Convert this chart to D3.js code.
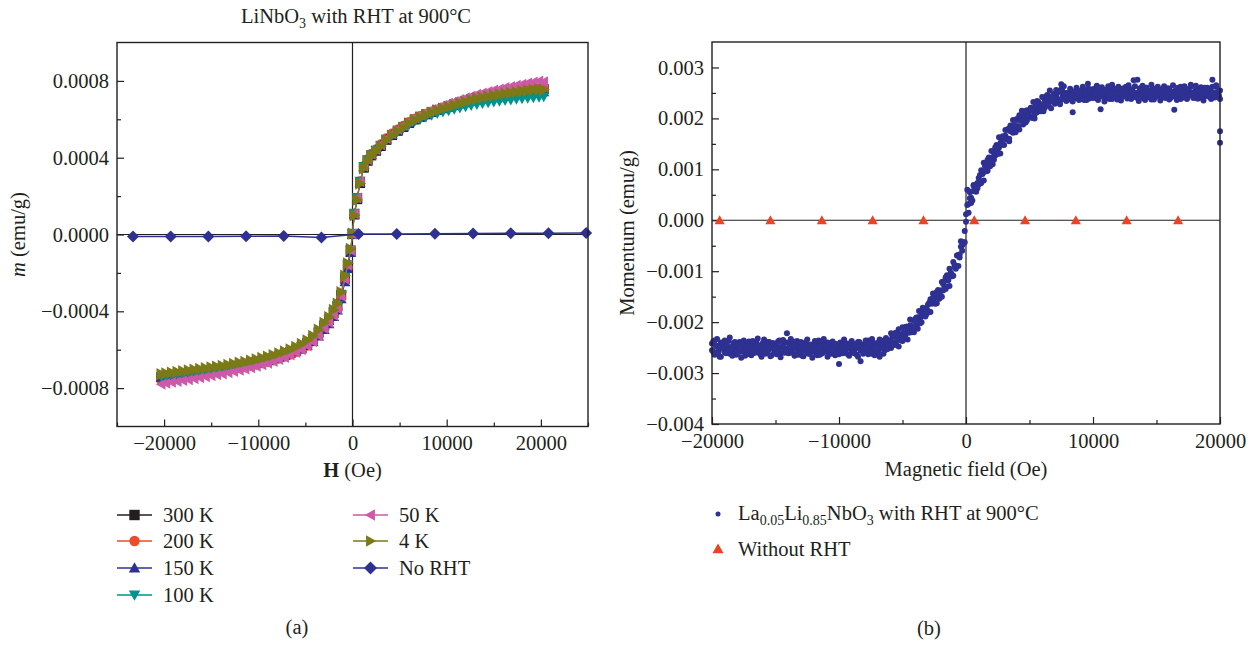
<!DOCTYPE html>
<html><head><meta charset="utf-8">
<script src="https://cdn.jsdelivr.net/npm/d3@7"></script>
<style>
body{margin:0;background:#fff}
svg{display:block}
text{font-family:"Liberation Serif","DejaVu Serif",serif;fill:#231f20}
</style>
</head><body>
<svg id="chart" width="1255" height="646"></svg>
<script>
// ---------- Panel (a) data : field in Oe, moment in 1e-6 emu/g ----------
const fieldA = [-20300,-19800,-19200,-18600,-18000,-17400,-16800,-16200,-15600,-15000,
 -14400,-13800,-13200,-12600,-12000,-11400,-10800,-10200,-9600,-9000,
 -8400,-7800,-7200,-6600,-6000,-5400,-4800,-4200,-3600,-3000,
 -2500,-2000,-1600,-1200,-800,-500,-200,0,200,500,
 800,1200,1600,2000,2500,3000,3600,4200,4800,5400,
 6000,6600,7200,7800,8400,9000,9600,10200,10800,11400,
 12000,12600,13200,13800,14400,15000,15600,16200,16800,17400,
 18000,18600,19200,19800,20300];
const m300K = [-742,-738,-734,-731,-727,-723,-719,-715,-711,-707,
 -703,-699,-694,-689,-683,-678,-672,-665,-658,-651,
 -643,-634,-624,-613,-600,-585,-566,-543,-511,-475,
 -445,-408,-375,-315,-230,-162,-85,2,104,184,
 268,348,384,412,436,461,493,518,540,560,
 581,599,613,626,638,649,659,668,677,686,
 694,703,710,716,722,727,732,737,741,745,
 749,753,756,759,757];
const m200K = [-760,-755,-750,-746,-742,-737,-733,-729,-725,-720,
 -716,-712,-707,-702,-696,-691,-685,-678,-671,-664,
 -656,-647,-637,-626,-613,-598,-580,-556,-525,-489,
 -459,-422,-388,-328,-240,-172,-90,3,110,192,
 277,357,392,420,444,470,501,526,547,566,
 586,603,617,629,640,650,660,668,677,686,
 694,702,709,715,721,726,731,736,740,744,
 748,752,755,758,756];
const m150K = [-745,-741,-737,-734,-730,-726,-722,-718,-714,-710,
 -706,-702,-697,-692,-687,-682,-676,-670,-663,-656,
 -648,-640,-631,-621,-610,-597,-580,-558,-530,-496,
 -466,-428,-395,-336,-248,-178,-95,0,106,188,
 272,352,388,416,440,465,496,520,542,561,
 581,598,612,624,635,645,654,662,670,678,
 685,693,699,704,709,713,717,721,725,728,
 731,734,737,740,742];
const m100K = [-742,-737,-732,-728,-724,-720,-716,-712,-708,-704,
 -700,-696,-691,-686,-680,-675,-669,-662,-655,-648,
 -640,-631,-621,-610,-597,-582,-563,-540,-508,-472,
 -440,-402,-370,-310,-222,-156,-80,8,112,194,
 278,356,390,416,438,462,492,515,535,553,
 572,588,600,611,621,630,638,645,652,659,
 665,672,677,682,686,690,694,698,701,704,
 707,710,712,715,717];
const m50K = [-780,-775,-770,-766,-761,-756,-751,-746,-741,-736,
 -731,-726,-720,-714,-707,-701,-694,-686,-678,-670,
 -661,-651,-640,-628,-615,-600,-581,-558,-527,-490,
 -458,-420,-385,-322,-232,-160,-82,2,108,190,
 276,356,390,418,442,468,500,525,548,568,
 590,608,623,637,650,662,673,683,693,703,
 712,722,730,737,745,752,758,765,771,777,
 783,789,794,799,796];
const m4K = [-727,-723,-719,-716,-712,-708,-704,-700,-696,-692,
 -688,-684,-679,-674,-668,-663,-657,-650,-643,-636,
 -628,-619,-609,-598,-585,-570,-551,-528,-496,-460,
 -430,-393,-360,-300,-215,-150,-75,5,100,180,
 265,345,380,408,432,458,490,515,537,557,
 578,596,610,623,635,646,656,665,674,683,
 691,700,707,713,719,724,729,734,738,742,
 746,750,753,756,754];
const fieldNoRHT = [-23300,-19300,-15300,-11300,-7300,-3300,650,4700,8750,12800,16800,20800,24800];
const mNoRHT = [-11,-10,-10,-9,-8,-16,2,3,4,5,6,7,8];
const seriesNamesA = ["300 K","200 K","150 K","100 K","50 K","4 K","No RHT"];
const xTicksA = [-20000,-10000,0,10000,20000];
const yTicksA = [-0.0008,-0.0004,0,0.0004,0.0008];

// ---------- Panel (b) data : field in 100 Oe, moment in 1e-5 emu/g ----------
const fieldB = [
-200,-199,-198,-197,-196,-195,-194,-193,-192,-191,
-190,-189,-188,-187,-186,-185,-184,-183,-182,-181,
-180,-179,-178,-177,-176,-175,-174,-173,-172,-171,
-170,-169,-168,-167,-166,-165,-164,-163,-162,-161,
-160,-159,-158,-157,-156,-155,-154,-153,-152,-151,
-150,-149,-148,-147,-146,-145,-144,-143,-142,-141,
-140,-139,-138,-137,-136,-135,-134,-133,-132,-131,
-130,-129,-128,-127,-126,-125,-124,-123,-122,-121,
-120,-119,-118,-117,-116,-115,-114,-113,-112,-111,
-110,-109,-108,-107,-106,-105,-104,-103,-102,-101,
-100,-99,-98,-97,-96,-95,-94,-93,-92,-91,
-90,-89,-88,-87,-86,-85,-84,-83,-82,-81,
-80,-79,-78,-77,-76,-75,-74,-73,-72,-71,
-70,-69,-68,-67,-66,-65,-64,-63,-62,-61,
-60,-59,-58,-57,-56,-55,-54,-53,-52,-51,
-50,-49,-48,-47,-46,-45,-44,-43,-42,-41,
-40,-39,-38,-37,-36,-35,-34,-33,-32,-31,
-30,-29,-28,-27,-26,-25,-24,-23,-22,-21,
-20,-19,-18,-17,-16,-15,-14,-13,-12,-11,
-10,-9,-8,-7,-6,-5,-4,-3,-2,-1,
0,1,2,3,4,5,6,7,8,9,
10,11,12,13,14,15,16,17,18,19,
20,21,22,23,24,25,26,27,28,29,
30,31,32,33,34,35,36,37,38,39,
40,41,42,43,44,45,46,47,48,49,
50,51,52,53,54,55,56,57,58,59,
60,61,62,63,64,65,66,67,68,69,
70,71,72,73,74,75,76,77,78,79,
80,81,82,83,84,85,86,87,88,89,
90,91,92,93,94,95,96,97,98,99,
100,101,102,103,104,105,106,107,108,109,
110,111,112,113,114,115,116,117,118,119,
120,121,122,123,124,125,126,127,128,129,
130,131,132,133,134,135,136,137,138,139,
140,141,142,143,144,145,146,147,148,149,
150,151,152,153,154,155,156,157,158,159,
160,161,162,163,164,165,166,167,168,169,
170,171,172,173,174,175,176,177,178,179,
180,181,182,183,184,185,186,187,188,189,
190,191,192,193,194,195,196,197,198,199,
200,200,200];
// ascending sweep
const momentUp = [
-242,-258,-236,-262,-247,-255,-268,-240,-251,-245,
-259,-244,-253,-237,-262,-249,-256,-241,-250,-264,
-246,-255,-239,-258,-251,-243,-266,-248,-254,-238,
-257,-249,-261,-244,-252,-240,-259,-247,-263,-250,
-241,-256,-248,-260,-239,-253,-245,-265,-251,-243,
-258,-247,-254,-236,-261,-249,-244,-257,-252,-222,
-255,-243,-260,-248,-238,-263,-251,-246,-257,-241,
-252,-266,-245,-254,-239,-259,-248,-262,-244,-256,
-249,-237,-261,-253,-245,-264,-250,-242,-258,-247,
-255,-240,-262,-251,-246,-259,-243,-265,-248,-254,
-282,-250,-244,-261,-238,-256,-249,-263,-245,-252,
-258,-242,-255,-247,-264,-239,-251,-277,-246,-257,
-243,-260,-250,-236,-256,-248,-262,-241,-253,-245,
-258,-247,-268,-240,-251,-236,-255,-244,-249,-239,
-236,-251,-229,-240,-222,-243,-233,-248,-225,-236,
-237,-220,-226,-209,-234,-215,-206,-220,-211,-220,
-194,-207,-213,-190,-192,-200,-173,-186,-189,-174,
-179,-162,-180,-162,-152,-153,-164,-141,-150,-154,
-138,-150,-125,-133,-112,-130,-117,-129,-103,-110,
-109,-88,-90,-69,-90,-67,-52,-60,-43,-43,
12,60,15,43,44,39,68,57,56,73,
70,89,73,93,78,106,96,119,110,106,
122,110,135,127,148,130,143,131,157,149,
148,166,161,179,155,175,185,172,182,173,
199,185,178,200,197,188,214,200,196,210,
204,220,201,218,200,225,212,232,220,214,
228,214,237,227,246,225,235,220,243,232,
229,245,238,254,228,267,253,238,245,234,
244,238,252,242,212,248,240,256,243,250,
246,238,254,244,250,236,258,247,241,252,
245,256,240,251,247,260,218,249,242,255,
250,241,257,246,253,238,259,248,244,256,
247,254,239,258,245,251,262,243,255,249,
257,244,275,250,241,276,252,246,258,240,
253,247,260,242,255,249,237,258,246,252,
244,257,250,239,256,248,261,243,254,247,
258,240,252,246,217,255,243,260,249,238,
251,259,244,253,240,257,248,262,245,250,
243,256,249,239,258,246,254,241,260,247,
252,244,258,240,276,251,245,262,248,243,
255,175,152];
// descending sweep
const momentDown = [
-255,-238,-264,-246,-233,-259,-250,-268,-241,-253,
-236,-261,-247,-257,-230,-252,-266,-244,-239,-258,
-262,-240,-251,-270,-245,-236,-257,-249,-263,-242,
-248,-265,-237,-254,-260,-243,-232,-256,-246,-268,
-253,-234,-262,-245,-256,-239,-267,-250,-241,-259,
-244,-263,-238,-252,-269,-247,-235,-260,-255,-240,
-261,-249,-233,-258,-244,-266,-252,-237,-264,-248,
-239,-256,-267,-243,-251,-234,-262,-257,-245,-270,
-258,-242,-250,-265,-236,-254,-247,-261,-233,-252,
-246,-268,-241,-255,-262,-238,-250,-264,-243,-257,
-263,-240,-256,-247,-234,-260,-251,-242,-266,-249,
-237,-254,-261,-244,-250,-268,-239,-256,-245,-262,
-252,-236,-247,-263,-241,-257,-233,-250,-265,-244,
-241,-258,-234,-251,-246,-262,-238,-231,-253,-244,
-237,-222,-242,-226,-245,-221,-234,-214,-226,-233,
-210,-224,-231,-209,-212,-221,-195,-209,-213,-198,
-209,-191,-196,-178,-202,-182,-172,-185,-175,-184,
-166,-179,-155,-164,-144,-163,-151,-163,-137,-145,
-139,-121,-138,-119,-135,-108,-118,-95,-104,-107,
-82,-92,-95,-69,-68,-73,-41,-49,-45,-21,
-3,30,32,55,34,57,69,58,70,63,
83,72,98,91,113,96,109,97,123,115,
136,124,119,143,142,135,163,151,149,165,
160,177,159,177,160,186,175,197,187,182,
197,183,206,196,215,195,206,192,216,206,
204,221,215,232,207,226,234,219,227,217,
242,228,221,243,240,230,255,240,235,248,
241,256,236,252,233,257,243,263,250,243,
250,237,258,245,233,253,241,260,247,236,
255,242,262,236,251,246,268,239,257,249,
240,258,247,264,236,253,244,261,250,233,
256,245,263,238,251,266,242,255,248,237,
262,249,235,257,244,260,251,239,265,246,
238,255,247,263,242,250,234,259,248,264,
251,236,260,245,254,241,266,249,237,258,
244,262,250,235,257,247,263,240,253,259,
237,254,246,265,243,251,236,259,248,262,
255,241,263,249,238,257,245,266,251,240,
248,264,239,256,244,261,250,235,258,247,
260,243,254,238,262,249,241,265,252,246,
238];
const fieldWithout = [-19400,-15400,-11350,-7350,-3350,650,4650,8650,12650,16700];
const momentWithout = [0,0,0,0,0,0,0,0,0,0];
const seriesNamesB = ["La0.05Li0.85NbO3 with RHT at 900°C","Without RHT"];
const xTicksB = [-20000,-10000,0,10000,20000];
const yTicksB = [-0.004,-0.003,-0.002,-0.001,0,0.001,0.002,0.003];

// ---------- styles ----------
const INK = "#231f20";
const colorsA = ["#231f20","#ef4a2c","#2e3192","#00928e","#cc5aa8","#7b7a17","#2e3192"];
const shapesA = ["square","circle","up","down","left","right","diamond"];
const BLUE = "#2e3192", RED = "#ef4123";
const FS = 20.5, SUB = 14;

const svg = d3.select("#chart");
const fmtMinus = s => s.replace("-", "\u2212");

function markerPath(type, r) {
  switch (type) {
    case "square": return `M${-r},${-r}h${2*r}v${2*r}h${-2*r}Z`;
    case "circle": return `M${r},0A${r},${r} 0 1,1 ${-r},0A${r},${r} 0 1,1 ${r},0Z`;
    case "up": return `M0,${-r*1.1}L${r*1.1},${r*0.85}L${-r*1.1},${r*0.85}Z`;
    case "down": return `M0,${r*1.1}L${r*1.1},${-r*0.85}L${-r*1.1},${-r*0.85}Z`;
    case "left": return `M${-r*1.1},0L${r*0.85},${-r*1.1}L${r*0.85},${r*1.1}Z`;
    case "right": return `M${r*1.1},0L${-r*0.85},${-r*1.1}L${-r*0.85},${r*1.1}Z`;
    case "diamond": return `M0,${-r*1.25}L${r*1.25},0L0,${r*1.25}L${-r*1.25},0Z`;
  }
}

function frameAxes(g, x, y, opts) {
  const [x0, x1] = x.range(), [y0, y1] = y.range();
  g.append("g").attr("transform", `translate(0,${y0})`)
    .call(d3.axisBottom(x).tickValues(opts.xMinor).tickSize(-4).tickFormat(""))
    .call(a => a.select(".domain").remove())
    .call(a => a.selectAll("line").attr("stroke", INK).attr("stroke-width", 1.2));
  g.append("g").attr("transform", `translate(${x0},0)`)
    .call(d3.axisLeft(y).tickValues(opts.yMinor).tickSize(-4).tickFormat(""))
    .call(a => a.select(".domain").remove())
    .call(a => a.selectAll("line").attr("stroke", INK).attr("stroke-width", 1.2));
  const ax = g.append("g").attr("transform", `translate(0,${y0})`)
    .call(d3.axisBottom(x).tickValues(opts.xTicks).tickSize(-7).tickPadding(opts.xPad)
      .tickFormat(d => fmtMinus(String(d))));
  ax.select(".domain").remove();
  ax.selectAll("line").attr("stroke", INK).attr("stroke-width", 1.2);
  ax.selectAll("text").attr("font-size", FS).attr("font-family", "Liberation Serif").attr("fill", INK);
  const ay = g.append("g").attr("transform", `translate(${x0},0)`)
    .call(d3.axisLeft(y).tickValues(opts.yTicks).tickSize(-7).tickPadding(8)
      .tickFormat(d => fmtMinus(d3.format(opts.yFmt)(d))));
  ay.select(".domain").remove();
  ay.selectAll("line").attr("stroke", INK).attr("stroke-width", 1.2);
  ay.selectAll("text").attr("font-size", FS).attr("font-family", "Liberation Serif").attr("fill", INK);
  g.append("line").attr("x1", x0).attr("x2", x1).attr("y1", y(0)).attr("y2", y(0))
    .attr("stroke", INK).attr("stroke-width", 1.2);
  g.append("line").attr("x1", x(0)).attr("x2", x(0)).attr("y1", y0).attr("y2", y1)
    .attr("stroke", INK).attr("stroke-width", 1.2);
}
function frameRect(g, x, y) {
  const [x0, x1] = x.range(), [y0, y1] = y.range();
  g.append("rect").attr("x", x0).attr("y", y1).attr("width", x1 - x0).attr("height", y0 - y1)
    .attr("fill", "none").attr("stroke", INK).attr("stroke-width", 1.4);
}

// ================= Panel (a) =================
const xA = d3.scaleLinear().domain([-25000, 25000]).range([117, 588]);
const yA = d3.scaleLinear().domain([-0.001, 0.001]).range([426.5, 42.5]);
const gA = svg.append("g");
frameAxes(gA, xA, yA, {
  xTicks: xTicksA, xMinor: [-25000,-15000,-5000,5000,15000,25000], xPad: 9,
  yTicks: yTicksA, yMinor: [-0.0006,-0.0002,0.0002,0.0006], yFmt: ".4f"
});
const hystSeries = [m300K, m200K, m150K, m100K, m50K, m4K];
const lineA = d3.line().x(d => xA(d[0])).y(d => yA(d[1]));
hystSeries.forEach((vals, i) => {
  const pts = fieldA.map((h, j) => [h, vals[j] * 1e-6]);
  gA.append("path").attr("d", lineA(pts)).attr("fill", "none")
    .attr("stroke", colorsA[i]).attr("stroke-width", 1);
  gA.append("g").selectAll("path").data(pts).join("path")
    .attr("transform", d => `translate(${xA(d[0])},${yA(d[1])})`)
    .attr("d", markerPath(shapesA[i], i === 5 ? 5.6 : 5.0)).attr("fill", colorsA[i]);
});
{
  const pts = fieldNoRHT.map((h, j) => [h, mNoRHT[j] * 1e-6]);
  gA.append("path").attr("d", lineA(pts)).attr("fill", "none")
    .attr("stroke", colorsA[6]).attr("stroke-width", 1.5);
  gA.append("g").selectAll("path").data(pts).join("path")
    .attr("transform", d => `translate(${xA(d[0])},${yA(d[1])})`)
    .attr("d", markerPath("diamond", 4.8)).attr("fill", colorsA[6]);
}
frameRect(gA, xA, yA);
const tA = gA.append("text").attr("x", 356).attr("y", 23).attr("text-anchor", "middle").attr("font-size", FS);
tA.append("tspan").text("LiNbO");
tA.append("tspan").attr("dy", 5).attr("font-size", SUB).text("3");
tA.append("tspan").attr("dy", -5).text(" with RHT at 900°C");
const xtA = gA.append("text").attr("x", xA(0)).attr("y", 477).attr("text-anchor", "middle").attr("font-size", FS);
xtA.append("tspan").attr("font-weight", "bold").text("H");
xtA.append("tspan").text(" (Oe)");
const ytA = gA.append("text").attr("transform", `translate(25,${yA(0)}) rotate(-90)`)
  .attr("text-anchor", "middle").attr("font-size", FS);
ytA.append("tspan").attr("font-style", "italic").text("m");
ytA.append("tspan").text(" (emu/g)");
const legPos = [[117,515],[117,541],[117,568],[117,595],[353,515],[353,541],[353,568]];
seriesNamesA.forEach((name, i) => {
  const [lx, ly] = legPos[i];
  const g = gA.append("g");
  g.append("line").attr("x1", lx).attr("x2", lx + 35).attr("y1", ly).attr("y2", ly)
    .attr("stroke", colorsA[i]).attr("stroke-width", 1.5);
  g.append("path").attr("transform", `translate(${lx + 17.5},${ly})`)
    .attr("d", markerPath(shapesA[i], 5.2)).attr("fill", colorsA[i]);
  g.append("text").attr("x", lx + 46).attr("y", ly + 7).attr("font-size", FS).text(name);
});
gA.append("text").attr("x", 297).attr("y", 634).attr("text-anchor", "middle").attr("font-size", FS).text("(a)");

// ================= Panel (b) =================
const xB = d3.scaleLinear().domain([-20000, 20000]).range([712, 1220]);
const yB = d3.scaleLinear().domain([-0.004, 0.0035]).range([424, 42]);
const gB = svg.append("g");
frameAxes(gB, xB, yB, {
  xTicks: xTicksB, xMinor: [-15000,-5000,5000,15000], xPad: 9,
  yTicks: yTicksB, yMinor: [-0.0035,-0.0025,-0.0015,-0.0005,0.0005,0.0015,0.0025], yFmt: ".3f"
});
const ptsB = fieldB.map((h, j) => [h * 100, momentUp[j] * 1e-5])
  .concat(momentDown.map((m, j) => [fieldB[j] * 100, m * 1e-5]));
gB.append("g").selectAll("circle").data(ptsB)
  .join("circle").attr("cx", d => xB(d[0])).attr("cy", d => yB(d[1])).attr("r", 3).attr("fill", BLUE);
gB.append("g").selectAll("path").data(fieldWithout.map((h, j) => [h, momentWithout[j]]))
  .join("path").attr("transform", d => `translate(${xB(d[0])},${yB(d[1])})`)
  .attr("d", markerPath("up", 4.6)).attr("fill", RED);
frameRect(gB, xB, yB);
gB.append("text").attr("x", (712 + 1220) / 2).attr("y", 476).attr("text-anchor", "middle")
  .attr("font-size", FS).text("Magnetic field (Oe)");
gB.append("text").attr("transform", `translate(634,${yB(-0.00025)}) rotate(-90)`)
  .attr("text-anchor", "middle").attr("font-size", FS).text("Momentum (emu/g)");
gB.append("circle").attr("cx", 718).attr("cy", 514).attr("r", 2.5).attr("fill", BLUE);
const lt = gB.append("text").attr("x", 738).attr("y", 520).attr("font-size", FS);
lt.append("tspan").text("La");
lt.append("tspan").attr("dy", 5).attr("font-size", SUB).text("0.05");
lt.append("tspan").attr("dy", -5).text("Li");
lt.append("tspan").attr("dy", 5).attr("font-size", SUB).text("0.85");
lt.append("tspan").attr("dy", -5).text("NbO");
lt.append("tspan").attr("dy", 5).attr("font-size", SUB).text("3");
lt.append("tspan").attr("dy", -5).text(" with RHT at 900°C");
gB.append("path").attr("transform", "translate(718,549)").attr("d", markerPath("up", 5)).attr("fill", RED);
gB.append("text").attr("x", 738).attr("y", 556).attr("font-size", FS).text(seriesNamesB[1]);
gB.append("text").attr("x", 929).attr("y", 635).attr("text-anchor", "middle").attr("font-size", FS).text("(b)");
</script>
</body></html>
